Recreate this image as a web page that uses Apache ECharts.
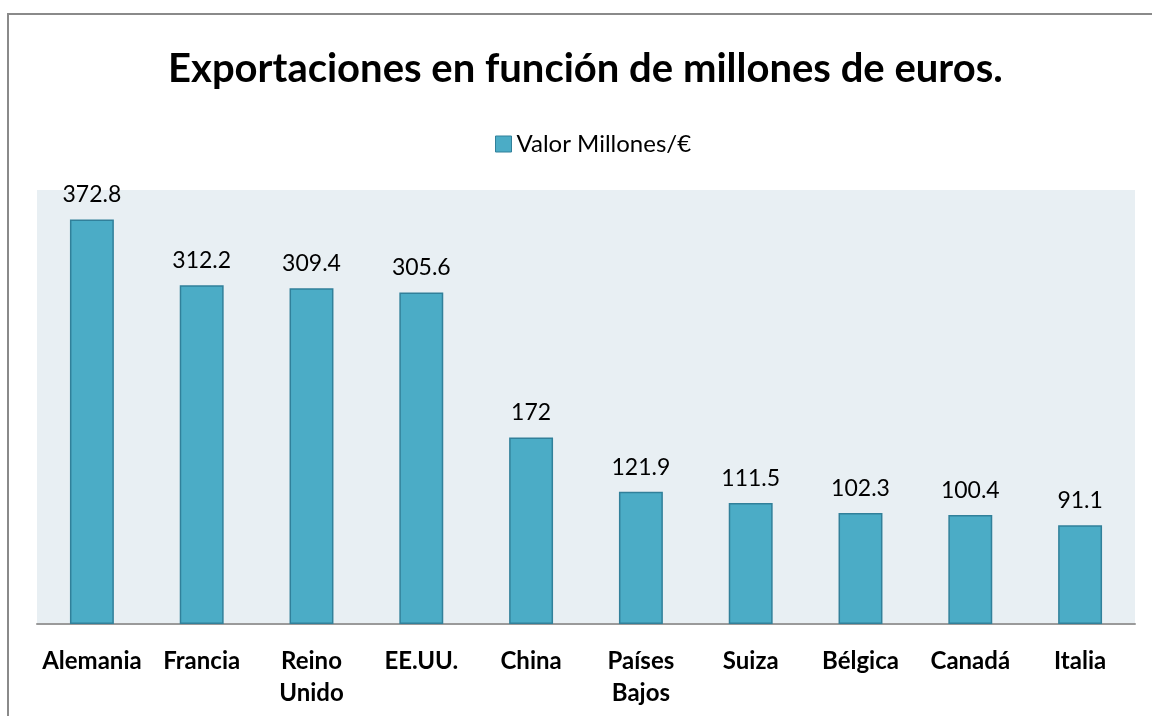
<!DOCTYPE html>
<html>
<head>
<meta charset="utf-8">
<script src="https://cdn.jsdelivr.net/npm/echarts@6/dist/echarts.min.js"></script>
<style>
  html, body { margin: 0; padding: 0; background: #fff; }
  #chart { width: 1152px; height: 716px; }
</style>
</head>
<body>
<div id="chart"></div>
<script>
const countries = ['Alemania', 'Francia', 'Reino\nUnido', 'EE.UU.', 'China', 'Países\nBajos', 'Suiza', 'Bélgica', 'Canadá', 'Italia'];
const values = [372.8, 312.2, 309.4, 305.6, 172, 121.9, 111.5, 102.3, 100.4, 91.1];
const seriesName = 'Valor Millones/€';

const font = 'Lato, "Open Sans", sans-serif';
const myChart = echarts.init(document.getElementById('chart'));

myChart.setOption({
  animation: false,
  backgroundColor: '#fff',
  // outer frame: only top and left edges fall inside the picture
  graphic: [{
    type: 'polyline',
    shape: { points: [[8, 716], [8, 14], [1152, 14]] },
    style: { fill: 'none', stroke: '#8a8a8a', lineWidth: 2 },
    z: 100
  }],
  title: {
    text: 'Exportaciones en función de millones de euros.',
    left: 163,
    top: 44,
    textStyle: { fontFamily: font, fontWeight: 'bold', fontSize: 40, color: '#000' }
  },
  legend: {
    data: [seriesName],
    top: 127,
    left: 490,
    icon: 'rect',
    itemWidth: 16,
    itemHeight: 16,
    itemGap: 7,
    itemStyle: { borderColor: '#31809a', borderWidth: 1 },
    textStyle: { fontFamily: font, fontSize: 24, color: '#000' }
  },
  grid: {
    left: 37, right: 17, top: 190, bottom: 92,
    show: true, backgroundColor: '#e8eff3', borderWidth: 0
  },
  xAxis: {
    type: 'category',
    data: countries,
    axisTick: { show: false },
    axisLine: { lineStyle: { color: '#9a9a9a', width: 2 } },
    axisLabel: {
      interval: 0,
      margin: 21,
      lineHeight: 32,
      fontFamily: font, fontWeight: 'bold', fontSize: 24, color: '#000'
    }
  },
  yAxis: {
    type: 'value',
    min: 0, max: 400,
    show: false,
    splitLine: { show: false }
  },
  series: [{
    type: 'bar',
    name: seriesName,
    data: values,
    barWidth: '40%',
    itemStyle: { color: '#4bacc6', borderColor: '#31809a', borderWidth: 1.5 },
    label: {
      show: true,
      position: 'top',
      distance: 13,
      fontFamily: font, fontSize: 23, color: '#000'
    }
  }]
});
</script>
</body>
</html>
